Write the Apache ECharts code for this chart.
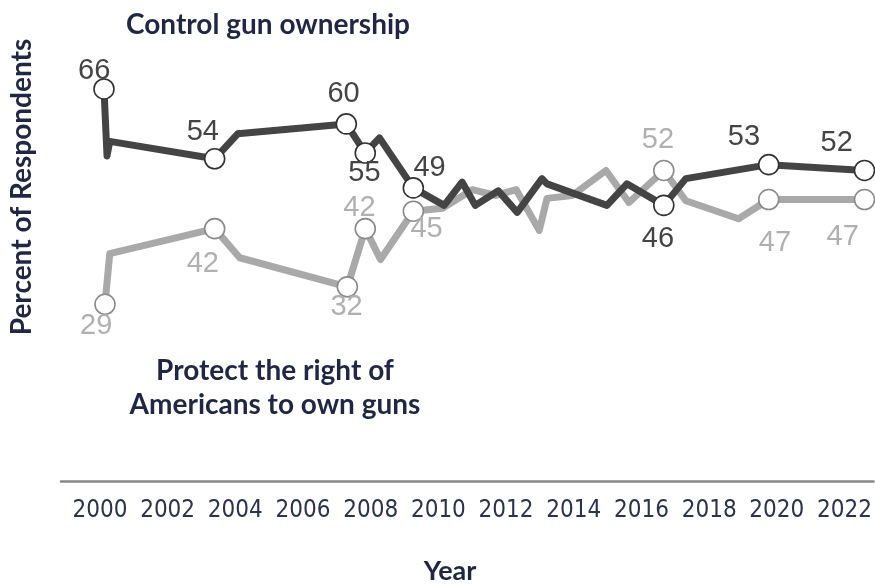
<!DOCTYPE html>
<html>
<head>
<meta charset="utf-8">
<script src="https://cdn.jsdelivr.net/npm/echarts@6/dist/echarts.min.js"></script>
<style>
html,body{margin:0;padding:0;background:#fff;}
#chart{width:875px;height:584px;}
</style>
</head>
<body>
<div id="chart"></div>
<script>
// ---- data ----
const tickYears = [2000, 2002, 2004, 2006, 2008, 2010, 2012, 2014, 2016, 2018, 2020, 2022];

const controlYears = [2000.12, 2000.21, 2000.29, 2003.39, 2004.07, 2007.28, 2007.84, 2008.26, 2009.26, 2010.17, 2010.70, 2011.09, 2011.77, 2012.33, 2013.06, 2013.21, 2014.98, 2015.57, 2016.66, 2017.31, 2019.76, 2022.59];
const controlValues = [66, 54.5, 57, 54, 58.3, 60, 55, 57.6, 49, 46, 50, 46, 48.5, 44.8, 50.6, 49.7, 46, 49.7, 46, 50.6, 53, 52];
const controlMarked = [0, 3, 5, 6, 8, 18, 20, 21];

const protectYears = [2000.15, 2000.29, 2003.39, 2004.13, 2007.31, 2007.84, 2008.29, 2009.26, 2010.12, 2011.0, 2011.7, 2012.3, 2012.98, 2013.21, 2013.95, 2014.95, 2015.63, 2016.66, 2017.31, 2018.87, 2019.76, 2022.59];
const protectValues = [29, 37.7, 42, 37, 32, 42, 36.7, 45, 45.5, 48.7, 47.7, 48.7, 41.7, 47.2, 47.7, 52, 46.5, 52, 46.8, 43.7, 47, 47];
const protectMarked = [0, 2, 4, 5, 7, 17, 20, 21];

// ---- label placement relative to marker centre (style, not data) ----
const controlLabelOffsets = [[-9,-17],[-11,-26],[-2,-29],[0,21],[17,-19],[-5,34],[-24,-27],[-27,-27]];
const protectLabelOffsets = [[-8,22],[-11,36],[0,21],[-5,-20],[14,19],[-5,-30],[7,44],[-21,38]];

const SYM = 20;

function buildData(years, values, marked, offsets, color, border) {
  return years.map(function (y, i) {
    const k = marked.indexOf(i);
    if (k < 0) {
      return { value: [y, values[i]], symbol: 'none', label: { show: false } };
    }
    return {
      value: [y, values[i]],
      symbol: 'circle',
      symbolSize: SYM,
      itemStyle: { color: '#ffffff', borderColor: border, borderWidth: 1.6 },
      label: {
        show: true,
        position: [SYM / 2 + offsets[k][0], SYM / 2 + offsets[k][1]],
        align: 'center',
        verticalAlign: 'middle',
        formatter: String(Math.round(values[i])),
        color: color,
        fontSize: 29,
        fontFamily: 'Liberation Sans, Arial, sans-serif'
      }
    };
  });
}

const chart = echarts.init(document.getElementById('chart'), null, { renderer: 'canvas' });

const navy = '#1f2744';

chart.setOption({
  animation: false,
  backgroundColor: '#ffffff',
  grid: { left: 61, right: 0, top: 7.5, bottom: 103, containLabel: false },
  xAxis: {
    type: 'value',
    min: 1998.85,
    max: 2022.855,
    splitLine: { show: false },
    axisLine: { show: true, onZero: false, lineStyle: { color: '#888888', width: 2.5 } },
    axisTick: { show: false },
    axisLabel: {
      customValues: tickYears,
      showMinLabel: true,
      showMaxLabel: true,
      margin: 18,
      color: '#2a3350',
      fontSize: 24,
      fontFamily: 'Liberation Sans Narrow, DejaVu Sans Condensed, sans-serif',
      formatter: function (v) { return String(v); }
    }
  },
  yAxis: {
    type: 'value',
    min: -1.36,
    max: 80,
    show: false,
    splitLine: { show: false }
  },
  series: [
    {
      name: 'Protect the right of Americans to own guns',
      type: 'line',
      z: 2,
      data: buildData(protectYears, protectValues, protectMarked, protectLabelOffsets, '#b0b0b0', '#8a8a8a'),
      lineStyle: { color: '#a9a9a9', width: 7, join: 'round', cap: 'round' },
      itemStyle: { color: '#ffffff' },
      showAllSymbol: true,
      labelLayout: { hideOverlap: false }
    },
    {
      name: 'Control gun ownership',
      type: 'line',
      z: 3,
      data: buildData(controlYears, controlValues, controlMarked, controlLabelOffsets, '#444444', '#333333'),
      lineStyle: { color: '#444444', width: 7, join: 'round', cap: 'round' },
      itemStyle: { color: '#ffffff' },
      showAllSymbol: true,
      labelLayout: { hideOverlap: false }
    }
  ],
  graphic: [
    {
      type: 'text', left: 126, top: 11,
      style: { text: 'Control gun ownership', fill: navy, font: 'bold 28px Lato, sans-serif' }
    },
    {
      type: 'text', x: 275, y: 354,
      style: { text: 'Protect the right of\nAmericans to own guns', fill: navy, font: 'bold 28px Lato, sans-serif', textAlign: 'center', lineHeight: 34 }
    },
    {
      type: 'text', x: 22, y: 187, rotation: Math.PI / 2,
      style: { text: 'Percent of Respondents', fill: navy, font: 'bold 28px Lato, sans-serif', textAlign: 'center', textVerticalAlign: 'middle' }
    },
    {
      type: 'text', x: 450, y: 571,
      style: { text: 'Year', fill: navy, font: 'bold 27px Lato, sans-serif', textAlign: 'center', textVerticalAlign: 'middle' }
    }
  ]
});
</script>
</body>
</html>
